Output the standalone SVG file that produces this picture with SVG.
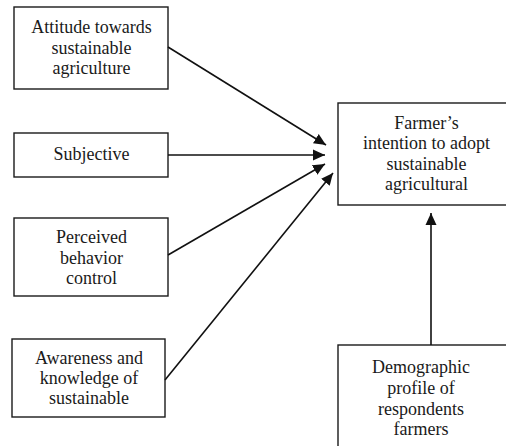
<svg xmlns="http://www.w3.org/2000/svg" width="506" height="446" viewBox="0 0 506 446">
<style>
.box{fill:#fff;stroke:#1a1a1a;stroke-width:1.4}
.lbl{font-family:"Liberation Serif","Times New Roman",serif;font-size:18px;fill:#1a1a1a;text-anchor:middle}
.conn{stroke:#111;stroke-width:1.6;fill:none}
</style>
<defs>
<marker id="ah" markerUnits="userSpaceOnUse" markerWidth="14" markerHeight="12" refX="12" refY="6" orient="auto">
<path d="M0,0.5 L12,6 L0,11.5 Z" fill="#111"/>
</marker>
</defs>
<rect width="506" height="446" fill="#fff"/>
<g id="attitude">
<rect class="box" x="14" y="7" width="154" height="82"/>
<text class="lbl" x="91.5" y="33">Attitude towards</text>
<text class="lbl" x="91.5" y="53.5">sustainable</text>
<text class="lbl" x="91.5" y="74">agriculture</text>
</g>
<g id="subjective">
<rect class="box" x="14" y="133" width="154" height="44"/>
<text class="lbl" x="91.5" y="160">Subjective</text>
</g>
<g id="perceived">
<rect class="box" x="14" y="218" width="154" height="78"/>
<text class="lbl" x="91.5" y="243">Perceived</text>
<text class="lbl" x="91.5" y="263.5">behavior</text>
<text class="lbl" x="91.5" y="283.5">control</text>
</g>
<g id="awareness">
<rect class="box" x="12" y="339" width="153" height="78"/>
<text class="lbl" x="89" y="364">Awareness and</text>
<text class="lbl" x="89" y="384">knowledge of</text>
<text class="lbl" x="89" y="404">sustainable</text>
</g>
<g id="intention">
<rect class="box" x="338" y="103" width="200" height="102"/>
<text class="lbl" x="426.5" y="129">Farmer’s</text>
<text class="lbl" x="426.5" y="149">intention to adopt</text>
<text class="lbl" x="426.5" y="169.5">sustainable</text>
<text class="lbl" x="426.5" y="190">agricultural</text>
</g>
<g id="demographic">
<rect class="box" x="338" y="345" width="200" height="130"/>
<text class="lbl" x="421" y="373">Demographic</text>
<text class="lbl" x="421" y="393.5">profile of</text>
<text class="lbl" x="421" y="414.5">respondents</text>
<text class="lbl" x="421" y="435">farmers</text>
</g>
<g id="connectors">
<line class="conn" x1="168" y1="47" x2="326" y2="145" marker-end="url(#ah)"/>
<line class="conn" x1="168" y1="155" x2="325" y2="155" stroke-width="2" marker-end="url(#ah)"/>
<line class="conn" x1="168" y1="255" x2="325" y2="164" marker-end="url(#ah)"/>
<line class="conn" x1="165" y1="380" x2="333" y2="173" marker-end="url(#ah)"/>
<line class="conn" x1="431" y1="345" x2="431" y2="213" marker-end="url(#ah)"/>
</g>
</svg>
